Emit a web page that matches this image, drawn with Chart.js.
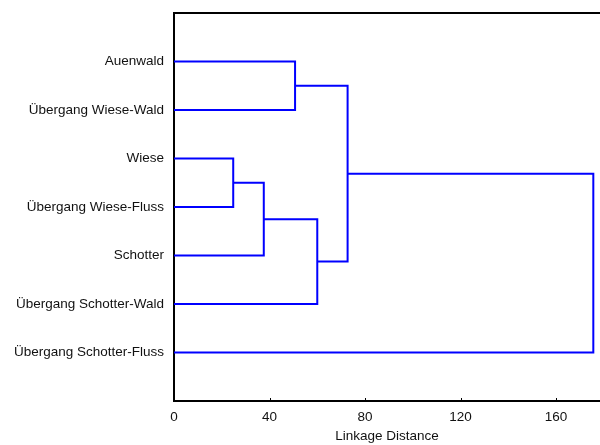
<!DOCTYPE html>
<html>
<head>
<meta charset="utf-8">
<script src="https://cdn.jsdelivr.net/npm/chart.js@4.4.0/dist/chart.umd.min.js"></script>
<style>
  html, body { margin: 0; padding: 0; background: #fff; }
</style>
</head>
<body>
<canvas id="canvas" width="600" height="445"></canvas>
<script>
// Blätter des Dendrogramms (von oben nach unten)
const leaves = [
  'Auenwald', 'Übergang Wiese-Wald', 'Wiese', 'Übergang Wiese-Fluss',
  'Schotter', 'Übergang Schotter-Wald', 'Übergang Schotter-Fluss'
];

// Fusionen: Knoten 0..6 = Blätter, 7.. = neue Cluster
const mergeLeft = [2, 7, 0, 8, 9, 11];
const mergeRight = [3, 4, 1, 5, 10, 6];
const mergeDist = [24.8, 37.6, 50.7, 60.0, 72.7, 175.6];

// Achsenbeschriftung
const xTicks = [0, 40, 80, 120, 160];
const xMax = 178.4;

// Positionen der Knoten aus den Daten ableiten
const nodeX = leaves.map(() => 0);
const nodeY = leaves.map((l, i) => i + 1);
const points = [];
for (let i = 0; i < mergeDist.length; i++) {
  const a = mergeLeft[i], b = mergeRight[i], d = mergeDist[i];
  points.push({ x: nodeX[a], y: nodeY[a] });
  points.push({ x: d, y: nodeY[a] });
  points.push({ x: d, y: nodeY[b] });
  points.push({ x: nodeX[b], y: nodeY[b] });
  points.push({ x: null, y: null });
  nodeX.push(d);
  nodeY.push((nodeY[a] + nodeY[b]) / 2);
}

const font = { family: '"Liberation Sans", Arial, sans-serif', size: 13.5 };

// Rahmen oben und kleine Striche nach innen
const framePlugin = {
  id: 'frame',
  afterDraw(chart) {
    const ctx = chart.ctx;
    const area = chart.chartArea;
    const x = chart.scales.x;
    ctx.save();
    ctx.strokeStyle = '#000';
    ctx.lineWidth = 2;
    ctx.beginPath();
    ctx.moveTo(area.left - 1, area.top);
    ctx.lineTo(area.right, area.top);
    ctx.stroke();
    ctx.lineWidth = 1;
    xTicks.forEach(v => {
      if (v === 0) return;
      const px = Math.round(x.getPixelForValue(v)) + 0.5;
      ctx.beginPath();
      ctx.moveTo(px, area.bottom);
      ctx.lineTo(px, area.bottom - 3);
      ctx.stroke();
    });
    ctx.restore();
  }
};

const data = {
  datasets: [
    {
      data: points,
      showLine: true,
      spanGaps: false,
      borderColor: '#0000ff',
      borderWidth: 2,
      pointRadius: 0,
      fill: false,
    }
  ],
};

const config = {
  type: 'scatter',
  data: data,
  options: {
    responsive: false,
    animation: false,
    layout: { padding: { top: 13, right: 0, bottom: 0, left: 0 } },
    plugins: { legend: { display: false }, tooltip: { enabled: false } },
    scales: {
      x: {
        type: 'linear',
        min: 0,
        max: xMax,
        grid: { display: false },
        border: { color: '#000', width: 2 },
        afterBuildTicks: s => { s.ticks = xTicks.map(v => ({ value: v })); },
        afterFit: s => { s.height = 44; },
        ticks: { color: '#111', font: font, padding: 0, maxRotation: 0 },
        title: {
          display: true,
          text: 'Linkage Distance',
          color: '#111',
          font: font,
          padding: { top: 2, bottom: 1 }
        }
      },
      y: {
        type: 'linear',
        min: 0,
        max: leaves.length + 1,
        reverse: true,
        grid: { display: false },
        border: { color: '#000', width: 2 },
        afterBuildTicks: s => { s.ticks = leaves.map((l, i) => ({ value: i + 1 })); },
        afterFit: s => { s.width = 174; },
        ticks: {
          color: '#111',
          font: font,
          padding: 2,
          callback: v => leaves[v - 1]
        }
      }
    }
  },
  plugins: [framePlugin]
};

const canvas = document.getElementById('canvas');
const chart = new Chart(canvas, config);
</script>
</body>
</html>
